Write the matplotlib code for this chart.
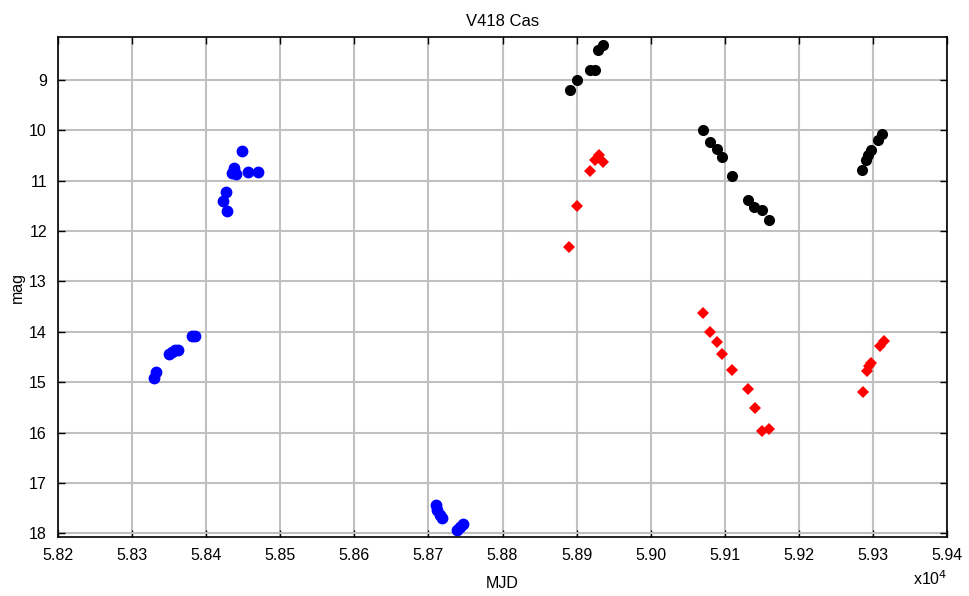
#!/usr/bin/env python
"""
Light curve of V418 Cas: two bands over MJD, Octave-style axes.
"""

import matplotlib
matplotlib.use("Agg")
import matplotlib.pyplot as plt
from matplotlib.ticker import FuncFormatter, MultipleLocator
import numpy as np

# blue points (one band, early epochs)
blue_mjd = [58448.8, 58437.6, 58434.5, 58440.3, 58456.1, 58470.4, 58426.4, 58423.1, 58428.5,
            58381.0, 58385.0, 58349.5, 58353.5, 58357.5, 58362.5, 58332.3, 58329.6,
            58710.3, 58711.0, 58715.7, 58718.0, 58738.2, 58742.7, 58747.1]
blue_mag = [10.41, 10.75, 10.85, 10.87, 10.82, 10.82, 11.22, 11.41, 11.61,
            14.08, 14.08, 14.44, 14.40, 14.36, 14.36, 14.79, 14.92,
            17.43, 17.53, 17.63, 17.70, 17.93, 17.87, 17.82]

# black points
black_mjd = [58891.1, 58900.2, 58918.1, 58924.9, 58929.3, 58936.1,
             59070.3, 59080.2, 59090.0, 59096.4, 59110.3, 59131.8, 59139.5, 59150.7, 59160.2,
             59284.9, 59290.7, 59293.4, 59297.5, 59306.9, 59312.3]
black_mag = [9.20, 9.01, 8.80, 8.80, 8.40, 8.31,
             9.99, 10.24, 10.38, 10.53, 10.90, 11.39, 11.53, 11.58, 11.79,
             10.79, 10.59, 10.49, 10.40, 10.19, 10.08]

# red diamonds
red_mjd = [58890.2, 58900.2, 58918.1, 58924.9, 58930.7, 58936.1,
           59070.3, 59080.2, 59090.0, 59096.4, 59110.3, 59131.8, 59140.5, 59149.7, 59160.2,
           59286.2, 59291.6, 59295.1, 59297.0, 59309.6, 59315.0]
red_mag = [12.32, 11.50, 10.80, 10.59, 10.49, 10.62,
           13.62, 14.00, 14.21, 14.44, 14.76, 15.14, 15.51, 15.96, 15.93,
           15.20, 14.77, 14.67, 14.62, 14.28, 14.19]

plt.rcParams['font.family'] = ['Liberation Sans', 'DejaVu Sans']

fig = plt.figure(figsize=(9.69, 5.96), dpi=100)
ax = fig.add_axes([0.0599, 0.099, 0.9174, 0.8389])

ax.plot(black_mjd, black_mag, 'o', color='black', markersize=8, markeredgewidth=0)
ax.plot(red_mjd, red_mag, 'D', color='red', markersize=6.5, markeredgewidth=0)
ax.plot(blue_mjd, blue_mag, 'o', color='blue', markersize=8.5, markeredgewidth=0)

ax.set_xlim(58200, 59400)
ax.set_ylim(18.07, 8.15)
ax.xaxis.set_major_locator(MultipleLocator(100))
ax.xaxis.set_major_formatter(FuncFormatter(lambda v, p: "%.2f" % (v / 1e4)))
ax.set_yticks(np.arange(9, 19))

ax.grid(True, color='#c0c0c0', linewidth=1.5)
ax.set_axisbelow(True)
ax.tick_params(direction='in', length=5, width=1, top=True, right=True,
               labelsize=11.5, pad=8, color='black')
for s in ax.spines.values():
    s.set_linewidth(1.2)
    s.set_color('black')

ax.set_title("V418 Cas", fontsize=12, pad=8)
ax.set_xlabel("MJD", fontsize=11.5, labelpad=9)
ax.set_ylabel("mag", fontsize=11.5)
ax.yaxis.set_label_coords(-0.037, 0.5)
fig.text(0.96, 0.018, r"x10$^4$", fontsize=11.5, ha='center', va='baseline')

plt.savefig("out.png", dpi=100)
plt.close()
